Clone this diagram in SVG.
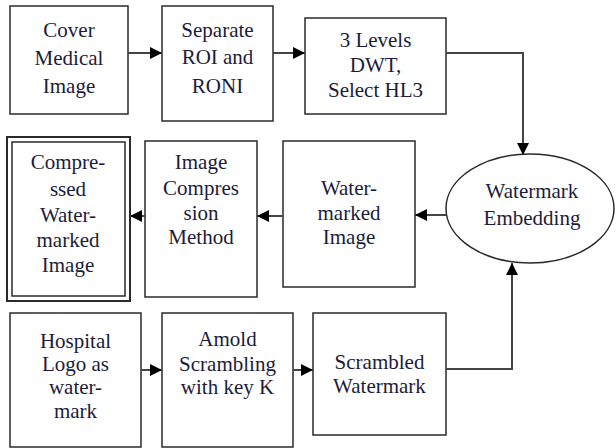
<svg xmlns="http://www.w3.org/2000/svg" width="616" height="448" viewBox="0 0 616 448">
<style>
.box{fill:#fff;stroke:#2a2a2a;stroke-width:1.5}
.lbl{font-size:21px;fill:#1c1c3a;text-anchor:middle}
.c{fill:none;stroke:#444;stroke-width:2}
</style>
<defs>
<marker id="ah" markerUnits="userSpaceOnUse" viewBox="0 0 12 12" refX="12" refY="6" markerWidth="12" markerHeight="12" orient="auto">
<path d="M0,0 L12,6 L0,12 z" fill="#000"/>
</marker>
</defs>
<g id="cover">
<rect class="box" x="10" y="6" width="118" height="108"/>
<text class="lbl" font-family="'Liberation Serif', serif"><tspan x="69" y="37">Cover</tspan><tspan x="69" y="65">Medical</tspan><tspan x="69" y="93">Image</tspan></text>
</g>
<g id="separate">
<rect class="box" x="162" y="6" width="111" height="115"/>
<text class="lbl" font-family="'Liberation Serif', serif"><tspan x="217.5" y="37">Separate</tspan><tspan x="217.5" y="64">ROI and</tspan><tspan x="217.5" y="93">RONI</tspan></text>
</g>
<g id="dwt">
<rect class="box" x="305" y="18" width="141" height="96"/>
<text class="lbl" font-family="'Liberation Serif', serif"><tspan x="375.5" y="47">3 Levels</tspan><tspan x="375.5" y="72">DWT,</tspan><tspan x="375.5" y="97">Select HL3</tspan></text>
</g>
<g id="embedding">
<ellipse cx="530" cy="208.5" rx="84" ry="54.5" fill="#fff" stroke="#2a2a2a" stroke-width="1.5"/>
<text class="lbl" font-family="'Liberation Serif', serif"><tspan x="532" y="198">Watermark</tspan><tspan x="532" y="225">Embedding</tspan></text>
</g>
<g id="watermarked">
<rect class="box" x="283" y="141" width="132" height="146"/>
<text class="lbl" font-family="'Liberation Serif', serif"><tspan x="349" y="195">Water-</tspan><tspan x="349" y="220">marked</tspan><tspan x="349" y="244">Image</tspan></text>
</g>
<g id="compression">
<rect class="box" x="145" y="141" width="112" height="156"/>
<text class="lbl" font-family="'Liberation Serif', serif"><tspan x="201" y="169">Image</tspan><tspan x="201" y="195">Compres</tspan><tspan x="201" y="220">sion</tspan><tspan x="201" y="244">Method</tspan></text>
</g>
<g id="compressed">
<rect fill="#fff" stroke="#2a2a2a" stroke-width="2" x="7" y="137" width="123" height="164"/>
<rect fill="none" stroke="#2a2a2a" stroke-width="1.5" x="12" y="142" width="113" height="154"/>
<text class="lbl" font-family="'Liberation Serif', serif"><tspan x="68" y="169">Compre-</tspan><tspan x="68" y="196">ssed</tspan><tspan x="68" y="222">Water-</tspan><tspan x="68" y="247">marked</tspan><tspan x="68" y="272">Image</tspan></text>
</g>
<g id="hospital">
<rect class="box" x="10" y="313" width="131" height="134"/>
<text class="lbl" font-family="'Liberation Serif', serif"><tspan x="75.5" y="348">Hospital</tspan><tspan x="75.5" y="371">Logo as</tspan><tspan x="75.5" y="394">water-</tspan><tspan x="75.5" y="418">mark</tspan></text>
</g>
<g id="arnold">
<rect class="box" x="162" y="313" width="131" height="134"/>
<text class="lbl" font-family="'Liberation Serif', serif"><tspan x="227.5" y="346">Amold</tspan><tspan x="227.5" y="371">Scrambling</tspan><tspan x="227.5" y="394">with key K</tspan></text>
</g>
<g id="scrambled">
<rect class="box" x="313" y="313" width="133" height="122"/>
<text class="lbl" font-family="'Liberation Serif', serif"><tspan x="379.5" y="369">Scrambled</tspan><tspan x="379.5" y="393">Watermark</tspan></text>
</g>
<g id="connectors">
<path class="c" d="M128,53 L162,53" marker-end="url(#ah)"/>
<path class="c" d="M273,53 L305,53" marker-end="url(#ah)"/>
<path class="c" d="M446,53 L523,53 L523,155" marker-end="url(#ah)"/>
<path class="c" d="M446,215 L415,215" marker-end="url(#ah)"/>
<path class="c" d="M283,216 L257,216" marker-end="url(#ah)"/>
<path class="c" d="M145,216 L130,216" marker-end="url(#ah)"/>
<path class="c" d="M141,370 L162,370" marker-end="url(#ah)"/>
<path class="c" d="M293,370 L313,370" marker-end="url(#ah)"/>
<path class="c" d="M446,369 L512,369 L512,263" marker-end="url(#ah)"/>
</g>
</svg>
